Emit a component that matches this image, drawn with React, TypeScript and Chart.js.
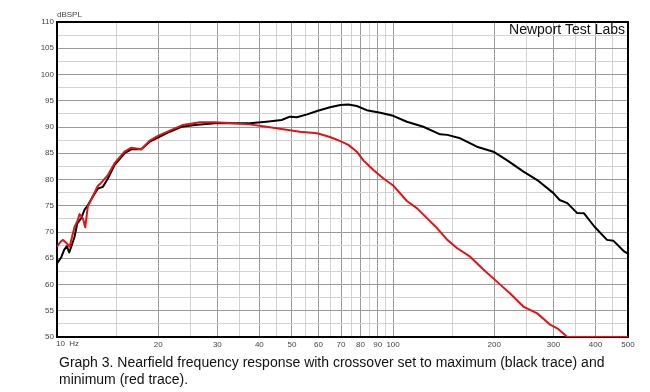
import React, { useEffect, useRef } from "react";
import { Chart, registerables } from "chart.js";

Chart.register(...registerables);

const blackFreq = [10.0, 10.3, 10.5, 10.7, 10.87, 11.0, 11.28, 11.49, 11.8, 12.07, 12.35, 12.8, 13.23, 13.7, 14.17, 14.84, 15.4, 15.88, 16.64, 17.2, 17.81, 18.87, 19.97, 21.65, 23.45, 25.7, 29.5, 33.4, 37.4, 42, 46.6, 49.3, 51.7, 55.5, 59.4, 64.9, 69.7, 73.6, 78, 83.5, 91.6, 99.3, 109.9, 123, 138, 145, 158.4, 177.6, 198.8, 218, 244.4, 268.5, 300, 313, 330, 353, 370, 397.5, 433, 452, 488, 500];
const blackDb = [64.0, 65.2, 66.6, 67.3, 66.1, 67.0, 69.1, 71.65, 72.6, 74.2, 75.1, 76.8, 78.3, 78.6, 80.2, 82.8, 84.0, 85.0, 85.75, 85.8, 85.75, 87.2, 88.0, 89.1, 90.05, 90.4, 90.7, 90.7, 90.7, 91.0, 91.33, 91.97, 91.85, 92.4, 93.05, 93.75, 94.2, 94.3, 94.0, 93.2, 92.7, 92.2, 91.0, 90.05, 88.6, 88.5, 87.85, 86.25, 85.3, 83.7, 81.5, 79.9, 77.4, 76.1, 75.5, 73.6, 73.55, 71.0, 68.5, 68.35, 66.25, 65.9];

const redFreq = [10.0, 10.2, 10.4, 10.7, 10.9, 11.28, 11.49, 11.67, 11.94, 12.13, 12.35, 12.8, 13.23, 13.5, 14.17, 14.84, 15.88, 16.64, 17.81, 18.87, 19.97, 21.65, 23.7, 26.6, 29.5, 33.4, 37.4, 42, 47.1, 52.8, 59.4, 64.9, 69.7, 73.6, 78, 81.7, 87.4, 93.6, 100.3, 109.9, 117.9, 126.3, 135.3, 145, 155.2, 169.5, 186, 204, 223, 244, 268.5, 294, 308, 330, 500];
const redDb = [67.2, 68.0, 68.5, 67.85, 67.2, 71.0, 72.0, 73.4, 72.6, 70.9, 74.85, 76.9, 78.8, 79.3, 80.85, 83.1, 85.3, 86.05, 85.75, 87.4, 88.3, 89.3, 90.4, 90.9, 90.9, 90.7, 90.5, 90.05, 89.55, 89.1, 88.8, 88.1, 87.3, 86.6, 85.3, 83.6, 81.8, 80.2, 78.8, 75.9, 74.5, 72.6, 70.7, 68.5, 66.9, 65.3, 62.8, 60.5, 58.3, 55.8, 54.5, 52.3, 51.65, 50.0, 50.0];

const xGridFreqs = [10, 15, 20, 25, 30, 35, 40, 45, 50, 55, 60, 65, 70, 75, 80, 85, 90, 95, 100, 150, 200, 250, 300, 350, 400, 450, 500];
const xLabelFreqs = [20, 30, 40, 50, 60, 70, 80, 90, 100, 200, 300, 400, 500];
const xMajorFreqs = [10, 20, 30, 40, 50, 60, 70, 80, 90, 100, 200, 300, 400, 500];

const yMin = 50;
const yMax = 110;

const captionLines = [
  "Graph 3. Nearfield frequency response with crossover set to maximum (black trace) and",
  "minimum (red trace).",
];

const FONT = "'Liberation Sans', Arial, sans-serif";

export default function App() {
  const ref = useRef<HTMLCanvasElement | null>(null);

  useEffect(() => {
    document.body.style.margin = "0";
    const canvas = ref.current;
    if (!canvas) return;

    const overlay = {
      id: "overlay",
      beforeDatasetsDraw(chart: any) {
        const { ctx, chartArea } = chart;
        ctx.save();
        ctx.strokeStyle = "#000";
        ctx.lineWidth = 2;
        ctx.strokeRect(chartArea.left, chartArea.top, chartArea.right - chartArea.left, chartArea.bottom - chartArea.top);
        ctx.restore();
      },
      afterDraw(chart: any) {
        const { ctx, chartArea } = chart;
        const xs = chart.scales.x;
        ctx.save();
        ctx.fillStyle = "#444";
        ctx.font = `8px ${FONT}`;
        ctx.textBaseline = "middle";
        ctx.textAlign = "left";
        ctx.fillText("dBSPL", chartArea.left, 15);
        ctx.fillText("10  Hz", xs.getPixelForValue(10) - 1, 344);
        ctx.fillStyle = "#111";
        ctx.font = `14px ${FONT}`;
        ctx.textAlign = "right";
        ctx.textBaseline = "alphabetic";
        ctx.fillText("Newport Test Labs", chartArea.right - 3, 34);
        ctx.restore();
      },
    };

    const chart = new Chart(canvas, {
      type: "line",
      data: {
        datasets: [
          {
            label: "min",
            data: redFreq.map((f, i) => ({ x: f, y: redDb[i] })),
            borderColor: "#e01414",
            borderWidth: 2,
            pointRadius: 0,
            tension: 0,
            borderJoinStyle: "round",
            order: 0,
          },
          {
            label: "max",
            data: blackFreq.map((f, i) => ({ x: f, y: blackDb[i] })),
            borderColor: "#000",
            borderWidth: 2,
            pointRadius: 0,
            tension: 0,
            borderJoinStyle: "round",
            order: 1,
          },
        ],
      },
      options: {
        responsive: false,
        animation: false,
        events: [],
        layout: { padding: { top: 22, right: 22, left: 0, bottom: 0 } },
        plugins: { legend: { display: false }, tooltip: { enabled: false } },
        scales: {
          x: {
            type: "logarithmic",
            min: 10,
            max: 500,
            afterBuildTicks: (scale: any) => {
              scale.ticks = xGridFreqs.map((v) => ({ value: v }));
            },
            afterFit: (scale: any) => {
              scale.height = 55;
            },
            ticks: {
              autoSkip: false,
              maxRotation: 0,
              minRotation: 0,
              padding: 3,
              color: "#444",
              font: { size: 8, family: FONT },
              callback: (v: any) => (xLabelFreqs.includes(Number(v)) ? String(v) : ""),
            },
            grid: {
              drawTicks: false,
              color: (c: any) => (c.tick && xMajorFreqs.includes(c.tick.value) ? "#9a9a9a" : "#d2d2d2"),
              lineWidth: 1,
            },
            border: { display: false },
          },
          y: {
            min: yMin,
            max: yMax,
            afterFit: (scale: any) => {
              scale.width = 57;
            },
            ticks: {
              stepSize: 2.5,
              padding: 3,
              color: "#444",
              font: { size: 8, family: FONT },
              callback: (v: any) => (Number(v) % 5 === 0 ? String(v) : ""),
            },
            grid: {
              drawTicks: false,
              color: (c: any) => (c.tick && c.tick.value % 5 === 0 ? "#9a9a9a" : "#d2d2d2"),
              lineWidth: 1,
            },
            border: { display: false },
          },
        },
      },
      plugins: [overlay],
    } as any);

    return () => chart.destroy();
  }, []);

  return (
    <div style={{ position: "relative", width: 650, height: 392, background: "#fff", overflow: "hidden" }}>
      <canvas ref={ref} width={650} height={392} style={{ position: "absolute", left: 0, top: 0, width: 650, height: 392 }} />
      <div
        style={{
          position: "absolute",
          left: 59,
          top: 354,
          fontFamily: FONT,
          fontSize: 14,
          lineHeight: "17px",
          color: "#111",
          whiteSpace: "nowrap",
        }}
      >
        {captionLines.map((l, i) => (
          <div key={i}>{l}</div>
        ))}
      </div>
    </div>
  );
}
